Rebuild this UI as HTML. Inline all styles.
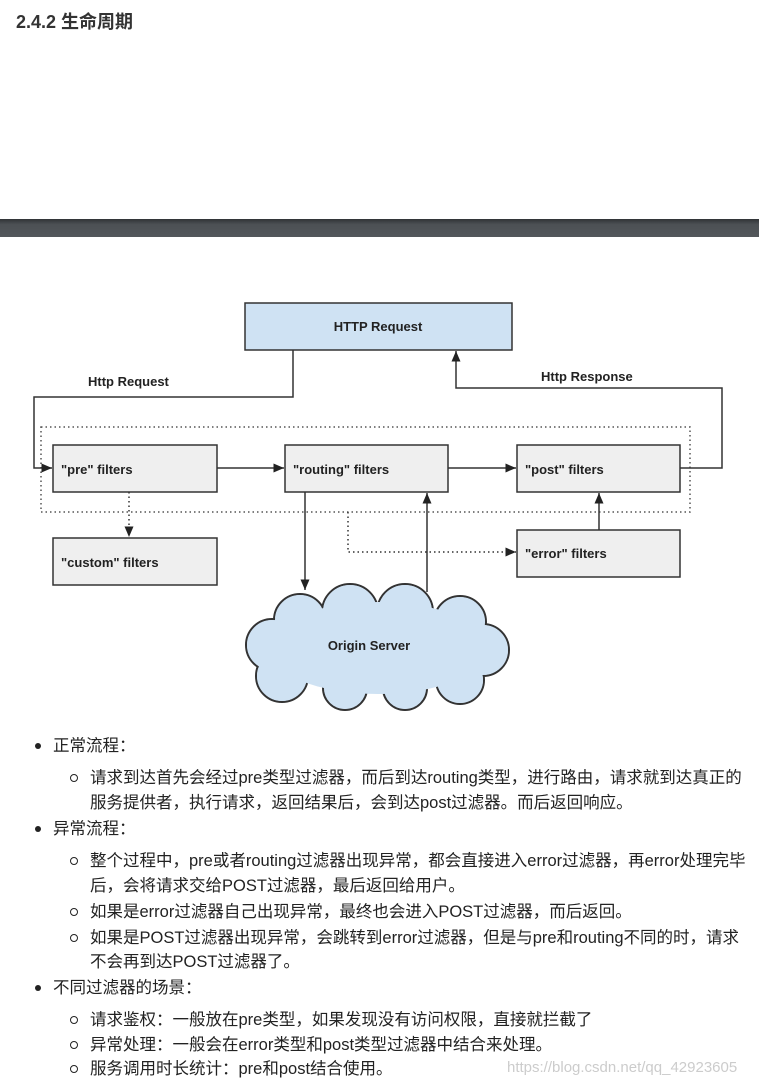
<!DOCTYPE html>
<html><head><meta charset="utf-8"><style>
body{margin:0;width:759px;height:1084px;background:#fff;position:relative;overflow:hidden;font-family:"Liberation Sans","Noto Sans CJK SC",sans-serif;color:#222}
.t{position:absolute;font-size:16.5px;white-space:nowrap;line-height:20px}
.b1{position:absolute;width:6px;height:6px;background:#222;border-radius:50%}
.b2{position:absolute;width:6px;height:6px;border:1.3px solid #222;border-radius:50%}
</style></head><body>
<div style="position:absolute;left:16px;top:8px;font-size:18px;font-weight:bold;color:#333">2.4.2 生命周期</div>
<div style="position:absolute;left:0;top:219px;width:759px;height:18px;background:linear-gradient(#303336,#4c5054 30%,#53575b)"></div>
<svg style="position:absolute;left:0;top:0" width="759" height="1084" font-family="Liberation Sans,sans-serif" font-weight="bold" font-size="13">
<defs><marker id="a" markerWidth="8" markerHeight="8" refX="7" refY="4" orient="auto"><path d="M0,1 L7,4 L0,7 z" fill="#222"/></marker></defs>
<g stroke="#333" stroke-width="1.5" fill="#efefef">
<rect x="245" y="303" width="267" height="47" fill="#cfe2f3"/>
<rect x="53" y="445" width="164" height="47"/>
<rect x="285" y="445" width="163" height="47"/>
<rect x="517" y="445" width="163" height="47"/>
<rect x="53" y="538" width="164" height="47"/>
<rect x="517" y="530" width="163" height="47"/>
</g>
<rect x="41" y="427" width="649" height="85" fill="none" stroke="#555" stroke-width="1.5" stroke-dasharray="1.5,3"/>
<g fill="none" stroke="#333" stroke-width="1.5">
<path d="M293,350 V397 H34 V468 H52" marker-end="url(#a)"/>
<path d="M680,468 H722 V388 H456 V351" marker-end="url(#a)"/>
<path d="M217,468 H284" marker-end="url(#a)"/>
<path d="M448,468 H516" marker-end="url(#a)"/>
<path d="M305,492 V590" marker-end="url(#a)"/>
<path d="M427,592 V493" marker-end="url(#a)"/>
<path d="M599,530 V493" marker-end="url(#a)"/>
<path d="M129,492 V537" stroke-dasharray="1.5,3" marker-end="url(#a)"/>
<path d="M348,512 V552 H516" stroke-dasharray="1.5,3" marker-end="url(#a)"/>
</g>
<g stroke="#333" stroke-width="2" fill="#cfe2f3">
<circle cx="300" cy="620" r="26"/><circle cx="350" cy="612" r="28"/><circle cx="405" cy="612" r="28"/><circle cx="460" cy="622" r="26"/>
<circle cx="483" cy="650" r="26"/><circle cx="460" cy="680" r="24"/><circle cx="405" cy="688" r="22"/><circle cx="345" cy="688" r="22"/>
<circle cx="282" cy="676" r="26"/><circle cx="272" cy="645" r="26"/>
</g>
<g fill="#cfe2f3">
<circle cx="300" cy="620" r="25"/><circle cx="350" cy="612" r="27"/><circle cx="405" cy="612" r="27"/><circle cx="460" cy="622" r="25"/>
<circle cx="483" cy="650" r="25"/><circle cx="460" cy="680" r="23"/><circle cx="405" cy="688" r="21"/><circle cx="345" cy="688" r="21"/>
<circle cx="282" cy="676" r="25"/><circle cx="272" cy="645" r="25"/>
<ellipse cx="378" cy="648" rx="110" ry="46"/>
</g>
<g fill="#222">
<text x="378" y="331" text-anchor="middle">HTTP Request</text>
<text x="88" y="386">Http Request</text>
<text x="541" y="381">Http Response</text>
<text x="61" y="474">"pre" filters</text>
<text x="293" y="474">"routing" filters</text>
<text x="525" y="474">"post" filters</text>
<text x="61" y="567">"custom" filters</text>
<text x="525" y="558">"error" filters</text>
<text x="369" y="650" text-anchor="middle">Origin Server</text>
</g>
</svg>
<div class="b1" style="left:35px;top:743px"></div><div class="t" style="left:53px;top:736px">正常流程：</div>
<div class="b2" style="left:70px;top:774px"></div><div class="t" style="left:90px;top:768px">请求到达首先会经过pre类型过滤器，而后到达routing类型，进行路由，请求就到达真正的</div>
<div class="t" style="left:90px;top:793px">服务提供者，执行请求，返回结果后，会到达post过滤器。而后返回响应。</div>
<div class="b1" style="left:35px;top:826px"></div><div class="t" style="left:53px;top:819px">异常流程：</div>
<div class="b2" style="left:70px;top:857px"></div><div class="t" style="left:90px;top:851px">整个过程中，pre或者routing过滤器出现异常，都会直接进入error过滤器，再error处理完毕</div>
<div class="t" style="left:90px;top:876px">后，会将请求交给POST过滤器，最后返回给用户。</div>
<div class="b2" style="left:70px;top:908px"></div><div class="t" style="left:90px;top:902px">如果是error过滤器自己出现异常，最终也会进入POST过滤器，而后返回。</div>
<div class="b2" style="left:70px;top:934px"></div><div class="t" style="left:90px;top:928px">如果是POST过滤器出现异常，会跳转到error过滤器，但是与pre和routing不同的时，请求</div>
<div class="t" style="left:90px;top:952px">不会再到达POST过滤器了。</div>
<div class="b1" style="left:35px;top:985px"></div><div class="t" style="left:53px;top:978px">不同过滤器的场景：</div>
<div class="b2" style="left:70px;top:1016px"></div><div class="t" style="left:90px;top:1010px">请求鉴权：一般放在pre类型，如果发现没有访问权限，直接就拦截了</div>
<div class="b2" style="left:70px;top:1041px"></div><div class="t" style="left:90px;top:1035px">异常处理：一般会在error类型和post类型过滤器中结合来处理。</div>
<div class="b2" style="left:70px;top:1065px"></div><div class="t" style="left:90px;top:1059px">服务调用时长统计：pre和post结合使用。</div>
<div class="t" style="left:507px;top:1058px;color:#ccc;font-size:15px">https://blog.csdn.net/qq_42923605</div>
</body></html>
